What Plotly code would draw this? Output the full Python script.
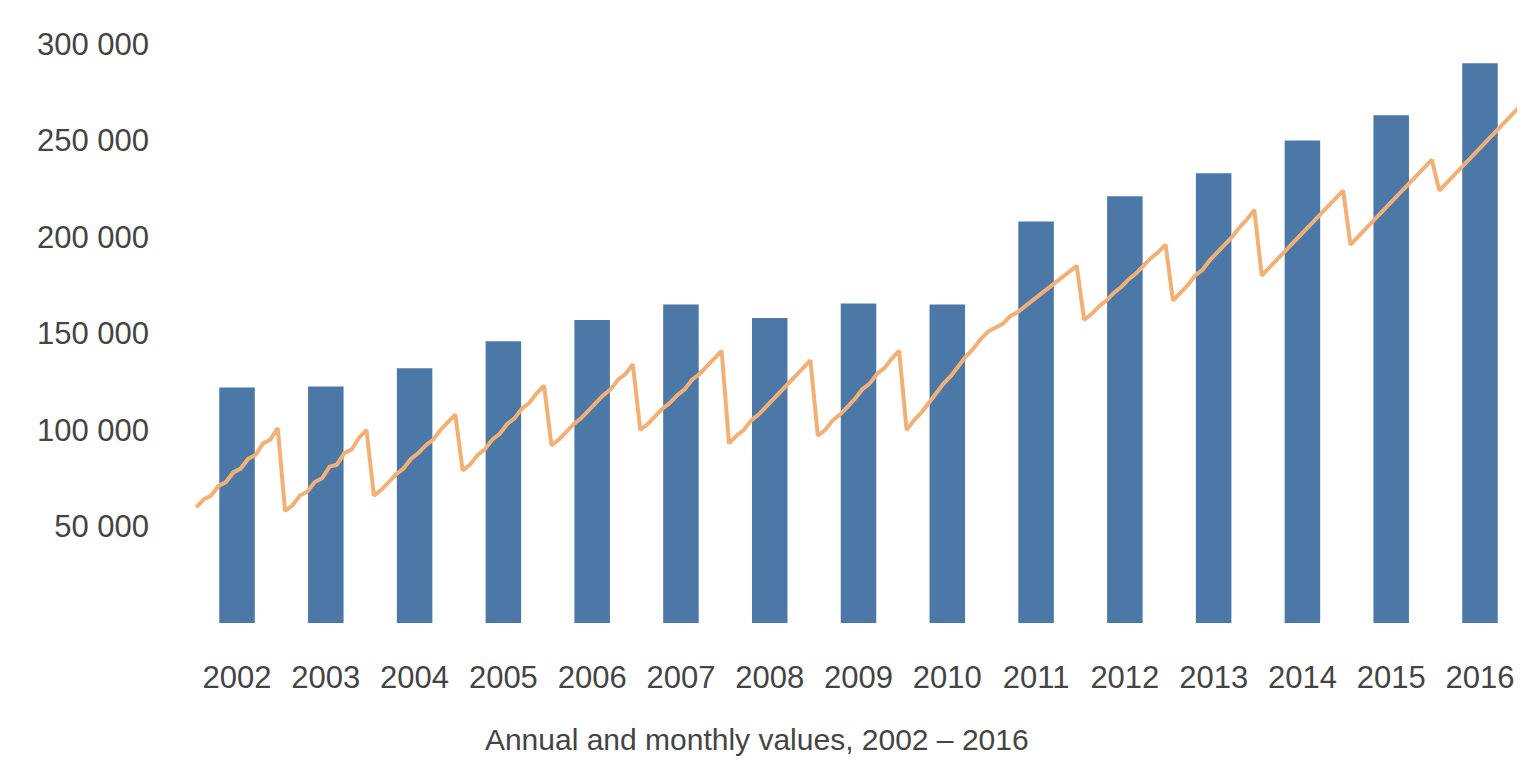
import plotly.graph_objects as go

# ---- data ----
years = [2002, 2003, 2004, 2005, 2006, 2007, 2008, 2009, 2010,
         2011, 2012, 2013, 2014, 2015, 2016]
annual_values = [122000, 122500, 132000, 146000, 157000, 165000, 158000, 165500,
                 165000, 208000, 221000, 233000, 250000, 263000, 290000]

months = [1, 2, 3, 4, 5, 6, 7, 8, 9, 10, 11, 12]
m2002 = [60000, 64000, 66000, 71000, 73000, 78000, 80000, 85000, 87000, 93000, 95000, 101000]
m2003 = [58000, 61000, 66000, 68000, 73000, 75000, 81000, 82000, 88000, 90000, 96000, 100000]
m2004 = [66000, 69000, 73000, 77000, 80000, 85000, 88000, 92000, 95000, 100000, 104000, 108000]
m2005 = [79000, 82000, 87000, 90000, 95000, 98000, 103000, 106000, 111000, 114000, 119000, 123000]
m2006 = [92000, 95000, 99000, 103000, 106000, 110000, 114000, 118000, 121000, 126000, 129000, 134000]
m2007 = [100000, 103000, 107000, 111000, 114000, 118000, 121000, 126000, 129000, 133000, 137000, 141000]
m2008 = [93000, 97000, 100000, 105000, 108000, 112000, 116000, 120000, 124000, 128000, 132000, 136000]
m2009 = [97000, 100000, 105000, 108000, 112000, 116000, 121000, 124000, 129000, 132000, 137000, 141000]
m2010 = [100000, 105000, 109000, 114000, 119000, 124000, 128000, 133000, 138000, 142000, 147000, 151000]
m2011 = [153000, 155000, 159000, 161000, 164000, 167000, 170000, 173000, 176000, 179000, 182000, 185000]
m2012 = [157000, 160000, 164000, 167000, 171000, 174000, 178000, 181000, 185000, 189000, 192000, 196000]
m2013 = [167000, 171000, 175000, 180000, 183000, 188000, 192000, 196000, 200000, 205000, 209000, 214000]
m2014 = [180000, 184000, 188000, 192000, 196000, 200000, 204000, 208000, 212000, 216000, 220000, 224000]
m2015 = [196000, 200000, 204000, 208000, 212000, 216000, 220000, 224000, 228000, 232000, 236000, 240000]
m2016 = [224000, 228000, 232000, 236000, 240000, 244000, 248000, 252000, 256000, 260000, 264000, 268000]
monthly_by_year = [m2002, m2003, m2004, m2005, m2006, m2007, m2008, m2009, m2010,
                   m2011, m2012, m2013, m2014, m2015, m2016]

y_tick_values = [50000, 100000, 150000, 200000, 250000, 300000]
x_tick_labels = [str(y) for y in years]
x_title = "Annual and monthly values, 2002 – 2016"

# ---- build line coordinates from year/month ----
line_x, line_y = [], []
for yr, vals in zip(years, monthly_by_year):
    for m, v in zip(months, vals):
        line_x.append(yr - 0.5 + (m - 0.5) / 12)
        line_y.append(v)

FONT = "Liberation Sans, Arial, sans-serif"

fig = go.Figure()
fig.add_trace(go.Bar(x=years, y=annual_values, width=0.4,
                     marker=dict(color="#4c78a8", line=dict(width=0)),
                     name="Annual"))
fig.add_trace(go.Scatter(x=line_x, y=line_y, mode="lines",
                         line=dict(color="#f2b074", width=4),
                         name="Monthly"))

fig.update_layout(
    width=1525, height=762,
    margin=dict(l=177, r=8, t=32, b=147),
    paper_bgcolor="white", plot_bgcolor="white",
    showlegend=False,
    separators=". ",
    font=dict(family=FONT, size=31, color="#444"),
    title=dict(text=x_title, font=dict(size=30, color="#444"),
               xref="container", x=0.491, xanchor="center",
               yref="container", y=0.04, yanchor="middle"),
    xaxis=dict(range=[2001.414, 2016.507], tickvals=years, ticktext=x_tick_labels,
               showgrid=False, zeroline=False, showline=False, ticks="",
               ticklabelstandoff=33),
    yaxis=dict(range=[0, 302000], tickvals=y_tick_values, tickformat=",d",
               showgrid=False, zeroline=False, showline=False, ticks="",
               ticklabelstandoff=35),
)

fig.write_html("out.html")
